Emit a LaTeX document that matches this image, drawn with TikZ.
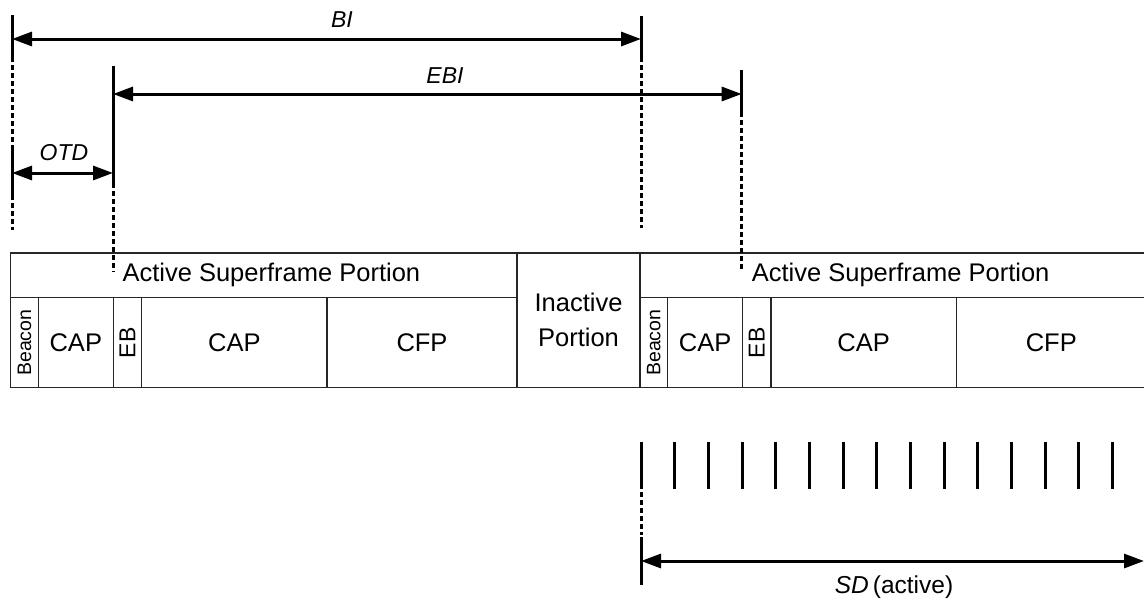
\documentclass[tikz,border=0pt]{standalone}
\usepackage{fontspec}
\setmainfont{Liberation Sans}
\usetikzlibrary{arrows.meta}
\newcommand\mysf[2]{%
  \begin{scope}[xshift=#1pt]
    \node[box, minimum width=506.3, minimum height=44.7] (asp#2) at (10.7,253) {};
    \node[lbl, anchor=west] (aspt#2) at (119,275.4) {Active Superframe Portion};
    \node[box, minimum width=27.6, minimum height=90] (bcn#2) at (10.7,297.7) {};
    \node[bfont, rotate=90] (bcnt#2) at (bcn#2.center) {Beacon};
    \node[box, lbl, minimum width=75, minimum height=90] (capa#2) at (38.3,297.7) {CAP};
    \node[box, minimum width=28.4, minimum height=90] (eb#2) at (113.3,297.7) {};
    \node[ebfont, rotate=90] (ebt#2) at (eb#2.center) {EB};
    \node[box, lbl, minimum width=185.3, minimum height=90] (capb#2) at (141.7,297.7) {CAP};
    \node[box, lbl, minimum width=190, minimum height=90] (cfp#2) at (327,297.7) {CFP};
  \end{scope}}
\begin{document}
\begin{tikzpicture}[x=1pt,y=-1pt,
  box/.style={draw=black!85, line width=1.5pt, inner sep=0pt, outer sep=0pt, anchor=north west},
  lbl/.style={font=\fontsize{25.5}{35}\selectfont},
  bfont/.style={font=\fontsize{19.5}{22}\selectfont, inner sep=0pt},
  ebfont/.style={font=\fontsize{23}{26}\selectfont, inner sep=0pt},
  ilbl/.style={font=\fontsize{23}{26}\selectfont\itshape},
  tip/.tip={Triangle[length=20pt,width=14pt]},
  dim/.style={line width=3pt, tip-tip},
  tickline/.style={line width=3pt},
  dotline/.style={line width=3pt, dash pattern=on 4.5pt off 3.5pt}
]
\useasboundingbox (0,0) rectangle (1144,600);
\fill[white] (0,0) rectangle (1144,600);

% frames
\mysf{0}{a}
\node[box, lbl, align=center, minimum width=123, minimum height=134.7] (inact) at (517,253) {Inactive\\Portion};
\mysf{629.3}{b}

% reference coordinates
\coordinate (biL) at (12,39);
\coordinate (biR) at (641,39);
\coordinate (ebiL) at (113,94);
\coordinate (ebiR) at (741.7,94);
\coordinate (otdL) at (12,173);
\coordinate (otdR) at (113,173);
\coordinate (sdL) at (641,561);
\coordinate (sdR) at (1144,561);

% vertical guide at x=12
\draw[tickline] (12,15) -- (12,62);
\draw[dotline] (12,65) -- (12,145);
\draw[tickline] (12,145) -- (12,200);
\draw[dotline] (12,203) -- (12,230);
% x=113
\draw[tickline] (113,66) -- (113,188);
\draw[dotline] (113,191) -- (113,272);
% x=641
\draw[tickline] (641,15.7) -- (641,62);
\draw[dotline] (641,65) -- (641,228);
% x=741.7
\draw[tickline] (741.7,70) -- (741.7,117);
\draw[dotline] (741.7,120) -- (741.7,272);

% dimension arrows
\draw[dim] (biL) -- (biR);
\node[ilbl] (bilbl) at (342,20) {BI};
\draw[dim] (ebiL) -- (ebiR);
\node[ilbl] (ebilbl) at (445,76) {EBI};
\draw[dim] (otdL) -- (otdR);
\node[ilbl] (otdlbl) at (64,153) {OTD};

% slots
\foreach \k in {0,...,14}
  \draw[tickline] ({641+33.67*\k},442) -- ({641+33.67*\k},489);
\draw[dotline] (641,492) -- (641,535);
\draw[tickline] (641,537) -- (641,585);
\draw[dotline] (1146,492) -- (1146,535);
\draw[tickline] (1146,537) -- (1146,585);
\draw[dim] (sdL) -- (sdR);
\node[font=\fontsize{24.5}{28}\selectfont] (sdlbl) at (894,587) {\textit{SD}\,(active)};
\end{tikzpicture}
\end{document}
